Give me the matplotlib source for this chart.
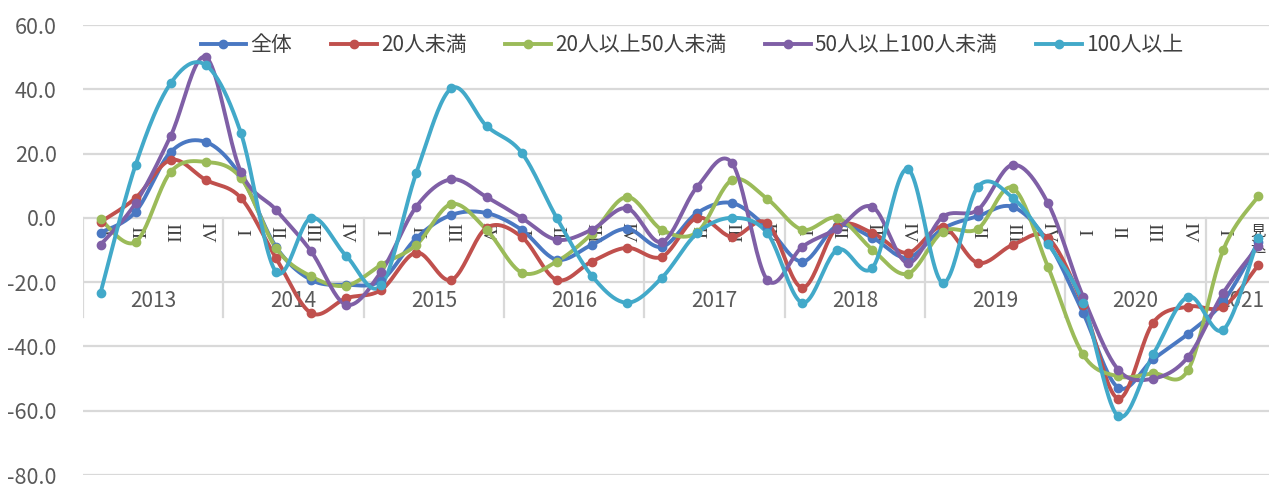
import numpy as np
import matplotlib
matplotlib.use("Agg")
import matplotlib.pyplot as plt
from matplotlib.lines import Line2D

plt.rcParams['font.family'] = ['Noto Sans CJK JP', 'DejaVu Sans']
plt.rcParams['axes.unicode_minus'] = False

# 2013 I .. 2021 II (quarterly)
years = ['2013', '2014', '2015', '2016', '2017', '2018', '2019', '2020', '2021']
quarter_labels = ['I', 'II', 'III', 'IV'] * 8 + ['I']
series_names = ['全体', '20人未満', '20人以上50人未満', '50人以上100人未満', '100人以上']

total = [-4.6, 1.9, 20.5, 23.6, 13.0, -9.0, -19.3, -20.8, -19.5, -6.3, 0.9, 1.5,
         -3.7, -13.0, -8.4, -3.4, -9.0, 1.5, 4.6, -3.0, -13.6, -2.5, -6.2, -12.4,
         -3.4, 0.5, 3.4, -7.5, -29.5, -52.8, -44.0, -36.0, -26.0, -7.5]
under20 = [-1.3, 6.2, 18.0, 11.8, 6.2, -12.5, -29.6, -25.0, -22.4, -10.8, -19.3, -3.1,
           -5.9, -19.3, -13.6, -9.3, -12.1, 0.0, -5.9, -1.6, -21.7, -2.8, -4.7, -10.9,
           -2.8, -14.0, -8.4, -6.2, -27.0, -56.2, -32.6, -27.6, -27.6, -14.6]
from20to50 = [-0.5, -7.5, 14.3, 17.4, 12.4, -9.4, -18.2, -21.1, -14.6, -8.4, 4.3, -3.7,
              -17.0, -13.6, -5.0, 6.5, -3.7, -4.5, 11.8, 5.9, -3.7, 0.0, -9.9, -17.4,
              -4.3, -3.4, 9.3, -15.2, -42.5, -49.3, -48.4, -47.2, -9.9, 6.8]
from50to100 = [-8.4, 4.6, 25.5, 50.0, 14.3, 2.5, -10.4, -27.0, -16.7, 3.5, 12.0, 6.5,
               0.0, -6.8, -3.7, 3.0, -7.5, 9.6, 17.0, -19.3, -9.0, -3.4, 3.4, -14.0,
               0.3, 2.5, 16.5, 4.6, -24.5, -47.2, -50.0, -43.2, -23.3, -8.7]
over100 = [-23.3, 16.5, 41.9, 47.5, 26.4, -16.8, 0.0, -11.8, -21.0, 14.0, 40.3, 28.6,
           20.3, 0.0, -18.0, -26.4, -18.6, -4.8, 0.0, -4.7, -26.4, -9.9, -15.5, 15.2,
           -20.2, 9.6, 6.2, -8.0, -26.4, -61.7, -42.5, -24.5, -34.8, -6.2]

colors = ['#4A78C2', '#C0504D', '#9BBB59', '#7F5FA6', '#42A9C9']


# Excel-like smoothed line (Catmull-Rom through the points)
def smooth(x, y, n=24):
    pts = np.column_stack([x, y]).astype(float)
    pad = np.vstack([pts[0], pts, pts[-1]])
    t = np.linspace(0, 1, n)[:, None]
    segs = []
    for i in range(len(pts) - 1):
        p0, p1, p2, p3 = pad[i], pad[i + 1], pad[i + 2], pad[i + 3]
        c1 = p1 + (p2 - p0) / 6
        c2 = p2 - (p3 - p1) / 6
        segs.append((1 - t) ** 3 * p1 + 3 * (1 - t) ** 2 * t * c1
                    + 3 * (1 - t) * t ** 2 * c2 + t ** 3 * p2)
    return np.vstack(segs)


fig = plt.figure(figsize=(12.69, 4.86), dpi=100)
ax = fig.add_axes([83 / 1269, 11 / 486, 1193 / 1269, 450 / 486])

grid_c = '#D9D9D9'
for v in range(-80, 61, 20):
    ax.axhline(v, color=grid_c, lw=1.6, zorder=0)

x = np.arange(len(total))
handles = []
for vals, c, name in zip([total, under20, from20to50, from50to100, over100], colors, series_names):
    curve = smooth(x, vals)
    ax.plot(curve[:, 0], curve[:, 1], color=c, lw=2.8, zorder=3, solid_capstyle='round')
    ax.plot(x, vals, 'o', color=c, ms=6, zorder=4)
    handles.append(Line2D([], [], color=c, lw=2.8, marker='o', ms=6, label=name))

# category axis labels (two levels)
for i, q in enumerate(quarter_labels):
    ax.text(i, -4.6, q, rotation=-90, ha='center', va='center', fontsize=14,
            family='Liberation Serif', color='#404040', zorder=2)
ax.text(33, -1.5, '見\n込', ha='center', va='top', fontsize=11, color='#404040',
        linespacing=0.95, zorder=2)
for k, yr in enumerate(years):
    xc = k * 4 + 1.5 if k < 8 else 32.5
    ax.text(xc, -25.8, yr, ha='center', va='center', fontsize=15, color='#595959',
            family='Noto Sans CJK JP', zorder=2)
for b in np.arange(-0.5, 33, 4):
    ax.plot([b, b], [0, -30.8], color=grid_c, lw=1.6, zorder=1)

ax.set_xlim(-0.5, 33.5)
ax.set_ylim(-80, 60)
ax.set_yticks(range(-80, 61, 20))
ax.set_yticklabels([f'{v:.1f}' for v in range(-80, 61, 20)], fontsize=15.5, color='#595959')
ax.set_xticks([])
ax.tick_params(axis='y', length=0, pad=19)
for s in ax.spines.values():
    s.set_visible(False)

fig.legend(handles=handles, loc='center', bbox_to_anchor=(692 / 1269, 1 - 45 / 486),
           ncol=5, frameon=False, fontsize=15, handlelength=2.2, handletextpad=0.2,
           columnspacing=1.85, labelcolor='#404040')

fig.savefig('out.png', dpi=100)
